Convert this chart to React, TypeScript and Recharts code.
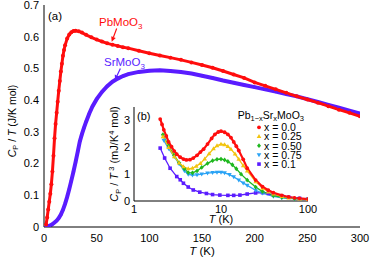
import React from 'react';
import { LineChart, Line, XAxis, YAxis, ReferenceLine } from 'recharts';

// main panel (a): C_P/T vs T
const pbT = [2, 3, 4, 5, 6, 7, 8, 9, 10, 11, 12, 13, 14, 15, 16, 17, 18, 19, 20, 22, 24, 26, 28, 30, 33, 36, 40, 45, 50, 55, 60, 65, 70, 75, 80, 90, 100, 110, 120, 130, 140, 150, 160, 170, 180, 190, 200, 210, 220, 230, 240, 250, 260, 270, 280, 290, 300];
const pbC = [0.008, 0.03, 0.055, 0.08, 0.105, 0.135, 0.175, 0.225, 0.28, 0.325, 0.36, 0.395, 0.43, 0.46, 0.49, 0.515, 0.54, 0.558, 0.573, 0.594, 0.607, 0.614, 0.618, 0.619, 0.617, 0.613, 0.606, 0.598, 0.591, 0.585, 0.579, 0.575, 0.571, 0.567, 0.564, 0.556, 0.548, 0.541, 0.534, 0.527, 0.519, 0.511, 0.502, 0.492, 0.481, 0.47, 0.456, 0.445, 0.434, 0.423, 0.412, 0.402, 0.392, 0.381, 0.37, 0.36, 0.349];
const srT = [2, 4, 6, 8, 10, 12, 14, 16, 18, 20, 22, 24, 26, 28, 30, 32, 34, 36, 38, 40, 43, 46, 50, 55, 60, 65, 70, 75, 80, 90, 100, 110, 120, 130, 140, 150, 160, 170, 180, 190, 200, 210, 220, 230, 240, 250, 260, 270, 280, 290, 300];
const srC = [0.001, 0.002, 0.005, 0.009, 0.014, 0.02, 0.028, 0.039, 0.054, 0.073, 0.095, 0.12, 0.147, 0.175, 0.205, 0.237, 0.27, 0.293, 0.313, 0.332, 0.358, 0.38, 0.403, 0.426, 0.444, 0.458, 0.468, 0.476, 0.482, 0.489, 0.493, 0.494, 0.492, 0.489, 0.484, 0.477, 0.47, 0.462, 0.455, 0.448, 0.441, 0.434, 0.427, 0.419, 0.412, 0.403, 0.394, 0.385, 0.376, 0.367, 0.358];

const xMajor = [0, 50, 100, 150, 200, 250, 300];
const xMinor = [25, 75, 125, 175, 225, 275];
const yMajor = [0, 0.1, 0.2, 0.3, 0.4, 0.5, 0.6, 0.7];
const yMinor = [0.05, 0.15, 0.25, 0.35, 0.45, 0.55, 0.65];

// inset panel (b): C_P/T^3 vs T (log)
const x00T = [2.0, 2.1, 2.2, 2.35, 2.5, 2.7, 2.9, 3.1, 3.4, 3.7, 4.0, 4.4, 4.8, 5.3, 5.8, 6.3, 7.0, 7.8, 8.5, 9.3, 10, 11, 12, 13, 14, 15, 16, 18, 20, 25, 30, 35, 40, 50, 60, 70, 80, 100];
const x00V = [3.05, 2.85, 2.65, 2.42, 2.2, 2.02, 1.86, 1.74, 1.63, 1.56, 1.53, 1.54, 1.6, 1.7, 1.82, 1.93, 2.12, 2.33, 2.48, 2.57, 2.6, 2.56, 2.48, 2.36, 2.2, 2.04, 1.88, 1.55, 1.22, 0.78, 0.53, 0.4, 0.31, 0.21, 0.15, 0.12, 0.1, 0.07];
const x25T = [2.15, 2.5, 2.9, 3.3, 3.7, 4.2, 4.7, 5.2, 5.8, 6.5, 7.3, 8.2, 9, 10, 11, 12, 13, 14.5, 16, 18, 20, 25, 30, 35, 40, 50, 60, 80, 100];
const x25V = [2.4, 2.0, 1.65, 1.42, 1.28, 1.2, 1.22, 1.3, 1.4, 1.57, 1.76, 1.95, 2.06, 2.12, 2.1, 2.03, 1.93, 1.75, 1.56, 1.32, 1.12, 0.72, 0.48, 0.34, 0.26, 0.17, 0.12, 0.08, 0.06];
const x50T = [2.15, 2.5, 2.9, 3.3, 3.8, 4.2, 4.7, 5.3, 6, 7, 8, 9, 10, 11, 12, 13.5, 15, 17, 20, 25, 30, 40, 50, 70, 100];
const x50V = [2.47, 2.05, 1.7, 1.42, 1.2, 1.06, 1.05, 1.12, 1.25, 1.4, 1.5, 1.55, 1.56, 1.53, 1.47, 1.35, 1.2, 1.0, 0.78, 0.52, 0.35, 0.2, 0.14, 0.09, 0.06];
const x75T = [2.2, 2.5, 2.9, 3.3, 3.8, 4.2, 4.7, 5.3, 6, 7, 8, 9, 10, 11, 12.5, 14, 16, 18, 20, 25, 30, 40, 50, 70, 100];
const x75V = [2.26, 1.95, 1.65, 1.38, 1.12, 0.99, 0.96, 0.97, 1.0, 1.04, 1.06, 1.07, 1.07, 1.05, 0.98, 0.9, 0.78, 0.67, 0.58, 0.4, 0.29, 0.17, 0.12, 0.08, 0.06];
const x10T = [2.0, 2.25, 2.6, 3.1, 3.4, 3.7, 4.2, 4.8, 5.7, 6.8, 8, 9.7, 12, 14, 16.5, 20, 25, 30, 35, 40, 50, 60, 80, 100];
const x10V = [1.97, 1.6, 1.22, 0.91, 0.79, 0.66, 0.52, 0.41, 0.33, 0.28, 0.24, 0.22, 0.21, 0.21, 0.22, 0.26, 0.3, 0.31, 0.28, 0.23, 0.18, 0.14, 0.1, 0.07];

const insetLabels = ['x = 0.0', 'x = 0.25', 'x = 0.50', 'x = 0.75', 'x = 0.1'];
const insetXMajor = [1, 10, 100];
const insetXMinor = [2, 3, 4, 5, 6, 7, 8, 9, 20, 30, 40, 50, 60, 70, 80, 90];
const insetYMajor = [0, 1, 2, 3];
const insetYMinor = [0.5, 1.5, 2.5, 3.5];

const RED = '#ff0d0d';
const BLUE = '#5a1cff';
const YELLOW = '#f2c40f';
const GREEN = '#1fb81f';
const CYAN = '#2aa3f5';
const FONT = '"Liberation Sans", Arial, Helvetica, sans-serif';

const zip = (ts: number[], vs: number[]) => ts.map((t, i) => ({ t, v: vs[i] }));
const pbData = zip(pbT, pbC);
const srData = zip(srT, srC);

type Shape = 'circle' | 'up' | 'diamond' | 'down' | 'square';

const insetSeries: { data: { t: number; v: number }[]; color: string; shape: Shape; w: number }[] = [
  { data: zip(x00T, x00V), color: RED, shape: 'circle', w: 2.2 },
  { data: zip(x25T, x25V), color: YELLOW, shape: 'up', w: 1.3 },
  { data: zip(x50T, x50V), color: GREEN, shape: 'diamond', w: 1.3 },
  { data: zip(x75T, x75V), color: CYAN, shape: 'down', w: 1.3 },
  { data: zip(x10T, x10V), color: BLUE, shape: 'square', w: 1.3 },
];

function marker(shape: Shape, cx: number, cy: number, color: string, key?: string | number) {
  switch (shape) {
    case 'circle':
      return <circle key={key} cx={cx} cy={cy} r={1.9} fill={color} />;
    case 'up':
      return <polygon key={key} points={`${cx},${cy - 2.4} ${cx - 2.3},${cy + 1.6} ${cx + 2.3},${cy + 1.6}`} fill={color} />;
    case 'down':
      return <polygon key={key} points={`${cx},${cy + 2.4} ${cx - 2.3},${cy - 1.6} ${cx + 2.3},${cy - 1.6}`} fill={color} />;
    case 'diamond':
      return <polygon key={key} points={`${cx},${cy - 2.4} ${cx + 2},${cy} ${cx},${cy + 2.4} ${cx - 2},${cy}`} fill={color} />;
    default:
      return <rect key={key} x={cx - 1.8} y={cy - 1.8} width={3.6} height={3.6} fill={color} />;
  }
}

const arrow = (color: string) => (p: any) => {
  const { x1, y1, x2, y2 } = p;
  const dx = x2 - x1;
  const dy = y2 - y1;
  const len = Math.sqrt(dx * dx + dy * dy) || 1;
  const ux = dx / len;
  const uy = dy / len;
  const hl = 5;
  const hw = 2.4;
  const bx = x2 - ux * hl;
  const by = y2 - uy * hl;
  return (
    <g>
      <line x1={x1} y1={y1} x2={bx} y2={by} stroke={color} strokeWidth={1.2} />
      <polygon points={`${x2},${y2} ${bx - uy * hw},${by + ux * hw} ${bx + uy * hw},${by - ux * hw}`} fill={color} />
    </g>
  );
};

const tickFont = { fontSize: 11, fill: '#000' };
const axisStroke = { stroke: '#000', strokeWidth: 1 };

function MainChart() {
  return (
    <LineChart width={374} height={262} margin={{ top: 5, right: 14, bottom: 0, left: 0 }}>
      <XAxis xAxisId="b" type="number" dataKey="t" domain={[0, 300]} ticks={xMajor} interval={0} allowDataOverflow
        height={35} tickLine={false} tickSize={0} tickMargin={7} axisLine={axisStroke} tick={tickFont} />
      <XAxis xAxisId="bMaj" type="number" domain={[0, 300]} ticks={xMajor} interval={0} allowDataOverflow
        mirror height={0} tick={false} tickSize={4} axisLine={false} tickLine={axisStroke} />
      <XAxis xAxisId="bMin" type="number" domain={[0, 300]} ticks={xMinor} interval={0} allowDataOverflow
        mirror height={0} tick={false} tickSize={2.5} axisLine={false} tickLine={axisStroke} />
      <XAxis xAxisId="tMaj" orientation="top" type="number" domain={[0, 300]} ticks={xMajor} interval={0} allowDataOverflow
        mirror height={0} tick={false} tickSize={4} axisLine={axisStroke} tickLine={axisStroke} />
      <XAxis xAxisId="tMin" orientation="top" type="number" domain={[0, 300]} ticks={xMinor} interval={0} allowDataOverflow
        mirror height={0} tick={false} tickSize={2.5} axisLine={false} tickLine={axisStroke} />
      <YAxis yAxisId="l" type="number" domain={[0, 0.7]} ticks={yMajor} interval={0} allowDataOverflow
        width={44} tickLine={false} tickSize={0} tickMargin={5} axisLine={axisStroke} tick={tickFont}
        tickFormatter={(v: number) => (v === 0 ? '0' : v.toFixed(1))} />
      <YAxis yAxisId="lMaj" type="number" domain={[0, 0.7]} ticks={yMajor} interval={0} allowDataOverflow
        mirror width={0} tick={false} tickSize={4} axisLine={false} tickLine={axisStroke} />
      <YAxis yAxisId="lMin" type="number" domain={[0, 0.7]} ticks={yMinor} interval={0} allowDataOverflow
        mirror width={0} tick={false} tickSize={2.5} axisLine={false} tickLine={axisStroke} />
      <YAxis yAxisId="rMaj" orientation="right" type="number" domain={[0, 0.7]} ticks={yMajor} interval={0} allowDataOverflow
        mirror width={0} tick={false} tickSize={4} axisLine={axisStroke} tickLine={axisStroke} />
      <YAxis yAxisId="rMin" orientation="right" type="number" domain={[0, 0.7]} ticks={yMinor} interval={0} allowDataOverflow
        mirror width={0} tick={false} tickSize={2.5} axisLine={false} tickLine={axisStroke} />
      <Line xAxisId="b" yAxisId="l" data={srData} dataKey="v" stroke={BLUE} strokeWidth={4}
        dot={{ r: 1.6, fill: BLUE, stroke: 'none' }} isAnimationActive={false} />
      <Line xAxisId="b" yAxisId="l" data={pbData} dataKey="v" stroke={RED} strokeWidth={3}
        dot={{ r: 2, fill: RED, stroke: 'none' }} isAnimationActive={false} />
      <ReferenceLine xAxisId="b" yAxisId="l" segment={[{ x: 69, y: 0.626 }, { x: 64.3, y: 0.584 }]}
        ifOverflow="visible" shape={arrow(RED)} />
      <ReferenceLine xAxisId="b" yAxisId="l" segment={[{ x: 72.5, y: 0.5 }, { x: 67.3, y: 0.463 }]}
        ifOverflow="visible" shape={arrow(BLUE)} />
    </LineChart>
  );
}

function InsetChart() {
  return (
    <LineChart width={222} height={130} margin={{ top: 7, right: 14, bottom: 0, left: 0 }}>
      <XAxis xAxisId="b" type="number" dataKey="t" scale="log" domain={[1, 100]} ticks={insetXMajor} interval={0} allowDataOverflow
        height={29} tickLine={false} tickSize={0} tickMargin={4} axisLine={axisStroke} tick={tickFont}
        tickFormatter={(v: number) => String(v)} />
      <XAxis xAxisId="bMaj" type="number" scale="log" domain={[1, 100]} ticks={insetXMajor} interval={0} allowDataOverflow
        mirror height={0} tick={false} tickSize={4} axisLine={false} tickLine={axisStroke} />
      <XAxis xAxisId="bMin" type="number" scale="log" domain={[1, 100]} ticks={insetXMinor} interval={0} allowDataOverflow
        mirror height={0} tick={false} tickSize={2.5} axisLine={false} tickLine={axisStroke} />
      <XAxis xAxisId="tMaj" orientation="top" type="number" scale="log" domain={[1, 100]} ticks={insetXMajor} interval={0} allowDataOverflow
        mirror height={0} tick={false} tickSize={4} axisLine={axisStroke} tickLine={axisStroke} />
      <XAxis xAxisId="tMin" orientation="top" type="number" scale="log" domain={[1, 100]} ticks={insetXMinor} interval={0} allowDataOverflow
        mirror height={0} tick={false} tickSize={2.5} axisLine={false} tickLine={axisStroke} />
      <YAxis yAxisId="l" type="number" domain={[0, 3.5]} ticks={insetYMajor} interval={0} allowDataOverflow
        width={34} tickLine={false} tickSize={0} tickMargin={4} axisLine={axisStroke} tick={tickFont} />
      <YAxis yAxisId="lMaj" type="number" domain={[0, 3.5]} ticks={insetYMajor} interval={0} allowDataOverflow
        mirror width={0} tick={false} tickSize={4} axisLine={false} tickLine={axisStroke} />
      <YAxis yAxisId="lMin" type="number" domain={[0, 3.5]} ticks={insetYMinor} interval={0} allowDataOverflow
        mirror width={0} tick={false} tickSize={2.5} axisLine={false} tickLine={axisStroke} />
      <YAxis yAxisId="rMaj" orientation="right" type="number" domain={[0, 3.5]} ticks={insetYMajor} interval={0} allowDataOverflow
        mirror width={0} tick={false} tickSize={4} axisLine={axisStroke} tickLine={axisStroke} />
      <YAxis yAxisId="rMin" orientation="right" type="number" domain={[0, 3.5]} ticks={insetYMinor} interval={0} allowDataOverflow
        mirror width={0} tick={false} tickSize={2.5} axisLine={false} tickLine={axisStroke} />
      {insetSeries.slice().reverse().map((s) => (
        <Line key={s.color} xAxisId="b" yAxisId="l" data={s.data} dataKey="v" stroke={s.color} strokeWidth={s.w}
          dot={(p: any) => marker(s.shape, p.cx, p.cy, s.color, p.index)} isAnimationActive={false} />
      ))}
    </LineChart>
  );
}

function Annotations() {
  const rowY = (i: number) => 127.3 + i * 9.2;
  return (
    <svg width={374} height={262} style={{ position: 'absolute', left: 0, top: 0, pointerEvents: 'none' }}
      fontFamily={FONT}>
      <text x={48} y={20} fontSize={11.5}>(a)</text>
      <text x={99} y={26} fontSize={11.5} fill={RED}>PbMoO<tspan fontSize={8} dy={3}>3</tspan></text>
      <text x={104} y={66} fontSize={11.5} fill={BLUE}>SrMoO<tspan fontSize={8} dy={3}>3</tspan></text>
      <text transform="translate(15.5,121) rotate(-90)" textAnchor="middle" fontSize={10.5}>
        <tspan fontStyle="italic">C</tspan><tspan fontSize={7.5} dy={2.5}>P</tspan>
        <tspan dy={-2.5}> / </tspan><tspan fontStyle="italic">T</tspan> (J/K mol)
      </text>
      <text x={202} y={255} textAnchor="middle" fontSize={11.5}>
        <tspan fontStyle="italic">T</tspan> (K)
      </text>

      <text x={137} y={120} fontSize={11}>(b)</text>
      <text x={304} y={118.5} textAnchor="end" fontSize={10.5}>
        Pb<tspan fontSize={7.5} dy={2.5}>1−x</tspan><tspan dy={-2.5}>Sr</tspan><tspan fontSize={7.5} dy={2.5}>x</tspan>
        <tspan dy={-2.5}>MoO</tspan><tspan fontSize={7.5} dy={2.5}>3</tspan>
      </text>
      {insetSeries.map((s, i) => (
        <g key={insetLabels[i]}>
          {marker(s.shape, 259, rowY(i), s.color)}
          <text x={264} y={rowY(i) + 3.8} fontSize={10.5}>{insetLabels[i]}</text>
        </g>
      ))}
      <text transform="translate(118,154) rotate(-90)" textAnchor="middle" fontSize={11}>
        <tspan fontStyle="italic">C</tspan><tspan fontSize={7.5} dy={2.5}>P</tspan>
        <tspan dy={-2.5}> / </tspan><tspan fontStyle="italic">T</tspan>
        <tspan fontSize={7.5} dy={-4}> 3</tspan><tspan dy={4}> (mJ/K</tspan>
        <tspan fontSize={7.5} dy={-4}>4</tspan><tspan dy={4}> mol)</tspan>
      </text>
      <text x={221} y={222.5} textAnchor="middle" fontSize={11}>
        <tspan fontStyle="italic">T</tspan> (K)
      </text>
    </svg>
  );
}

export default function App() {
  return (
    <div style={{ position: 'absolute', left: 0, top: 0, width: 374, height: 262, background: '#fff', fontFamily: FONT }}>
      <div style={{ position: 'absolute', left: 0, top: 0 }}>
        <MainChart />
      </div>
      <div style={{ position: 'absolute', left: 100, top: 100 }}>
        <InsetChart />
      </div>
      <Annotations />
    </div>
  );
}
